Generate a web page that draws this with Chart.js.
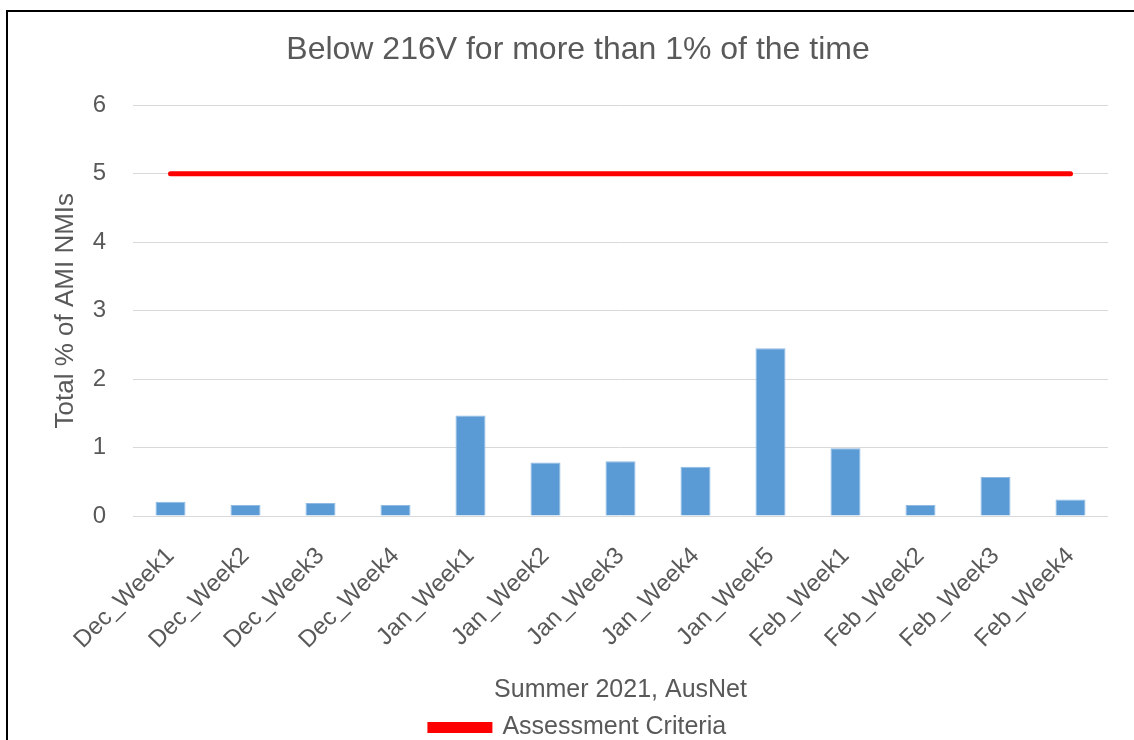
<!DOCTYPE html>
<html>
<head>
<meta charset="utf-8">
<script src="https://cdn.jsdelivr.net/npm/chart.js@4.4.1/dist/chart.umd.min.js"></script>
<style>
    html, body { margin: 0; padding: 0; background: #fff; overflow: hidden; }
    #page { position: relative; width: 1134px; height: 740px; overflow: hidden; }
    #frame {
        position: absolute; left: 6px; top: 10px; width: 1200px; height: 800px;
        border-left: 2px solid #000; border-top: 2px solid #000;
    }
    #wrap { position: absolute; left: 8px; top: 12px; width: 1140px; height: 738px; }
</style>
</head>
<body>
<div id="page">
    <div id="frame"></div>
    <div id="wrap"><canvas id="weekChart"></canvas></div>
</div>
<script>
// chart data
const weeks = ['Dec_Week1', 'Dec_Week2', 'Dec_Week3', 'Dec_Week4', 'Jan_Week1', 'Jan_Week2', 'Jan_Week3',
    'Jan_Week4', 'Jan_Week5', 'Feb_Week1', 'Feb_Week2', 'Feb_Week3', 'Feb_Week4'];
const belowPct = [0.21, 0.16, 0.19, 0.16, 1.47, 0.78, 0.80, 0.72, 2.45, 0.99, 0.16, 0.57, 0.24];
const criteria = [5, 5, 5, 5, 5, 5, 5, 5, 5, 5, 5, 5, 5];
const yTicks = [0, 1, 2, 3, 4, 5, 6];

const grey = '#595959';
const font = 'Liberation Sans, Arial, sans-serif';

const ctx = document.getElementById('weekChart').getContext('2d');
new Chart(ctx, {
    type: 'bar',
    data: {
        labels: weeks,
        datasets: [{
            type: 'bar',
            label: 'Below 216V',
            data: belowPct,
            backgroundColor: '#5b9bd5',
            borderColor: '#8fbbe3',
            borderWidth: 1,
            categoryPercentage: 1,
            barPercentage: 0.4,
            order: 2
        }, {
            type: 'line',
            label: 'Assessment Criteria',
            data: criteria,
            borderColor: '#ff0000',
            backgroundColor: '#ff0000',
            borderWidth: 5,
            borderCapStyle: 'round',
            pointRadius: 0,
            fill: false,
            order: 1
        }]
    },
    options: {
        responsive: true,
        maintainAspectRatio: false,
        animation: false,
        layout: { padding: 0 },
        plugins: {
            title: {
                display: true,
                text: 'Below 216V for more than 1% of the time',
                color: grey,
                font: { family: font, size: 32, weight: 'normal' },
                padding: { top: 19, bottom: 36 }
            },
            legend: {
                position: 'bottom',
                labels: {
                    color: grey,
                    font: { family: font, size: 25 },
                    boxWidth: 60,
                    boxHeight: 6,
                    padding: 10,
                    filter: item => item.text === 'Assessment Criteria'
                }
            },
            tooltip: { enabled: false }
        },
        scales: {
            x: {
                grid: { display: false },
                border: { display: false },
                ticks: {
                    color: grey,
                    font: { family: font, size: 24 },
                    minRotation: 45,
                    maxRotation: 45,
                    padding: 18
                },
                title: {
                    display: true,
                    text: 'Summer 2021, AusNet',
                    color: grey,
                    font: { family: font, size: 25 },
                    padding: { top: 0, bottom: 0 }
                },
                afterFit: scale => { scale.height = 189; }
            },
            y: {
                min: 0,
                max: 6,
                grid: { color: '#d9d9d9', lineWidth: 1, drawTicks: false },
                border: { display: false },
                afterBuildTicks: scale => { scale.ticks = yTicks.map(v => ({ value: v })); },
                ticks: {
                    color: grey,
                    font: { family: font, size: 24 },
                    padding: 27
                },
                title: {
                    display: true,
                    text: 'Total % of AMI NMIs',
                    color: grey,
                    font: { family: font, size: 26 },
                    padding: { top: 42, bottom: 0 }
                },
                afterFit: scale => { scale.width = 125; }
            },
            // empty right axis only keeps the white margin right of the plot
            yRight: {
                position: 'right',
                display: true,
                grid: { display: false },
                border: { display: false },
                ticks: { display: false },
                afterFit: scale => { scale.width = 40; }
            }
        }
    }
});
</script>
</body>
</html>
